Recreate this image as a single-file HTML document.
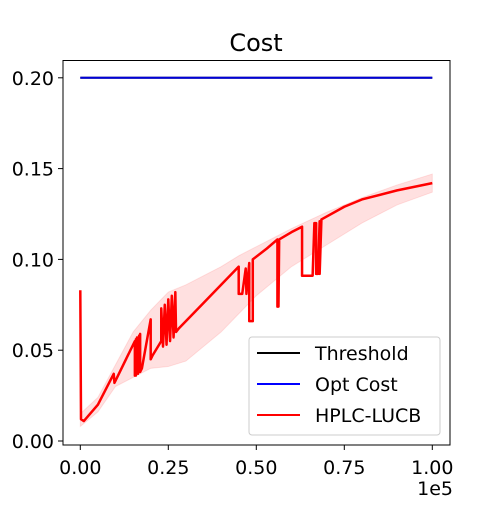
<!DOCTYPE html>
<html><head><meta charset="utf-8"><style>
body{margin:0;background:#fff}
svg{font-family:"DejaVu Sans","Liberation Sans",sans-serif}
</style></head><body>
<svg id="c" width="500" height="500" viewBox="0 0 500 500">
<rect width="500" height="500" fill="#fff"/>
<text x="256" y="51" font-size="24" text-anchor="middle">Cost</text>
<g id="band"></g><g id="lines"></g>
<rect x="63" y="60.5" width="387" height="384.5" fill="none" stroke="#000" stroke-width="1"/>
<g id="ticks"></g>
<text x="453" y="495" font-size="19" text-anchor="end">1e5</text>
<g>
<rect x="249" y="337" width="191" height="98" rx="3" fill="#fff" fill-opacity="0.8" stroke="#ccc"/>
<line x1="257" y1="353" x2="300" y2="353" stroke="#000" stroke-width="2"/>
<text x="315" y="360" font-size="19">Threshold</text>
<line x1="257" y1="384" x2="300" y2="384" stroke="#0000ff" stroke-width="2"/>
<text x="315" y="391" font-size="19">Opt Cost</text>
<line x1="257" y1="415" x2="300" y2="415" stroke="#ff0000" stroke-width="2"/>
<text x="315" y="422" font-size="19">HPLC-LUCB</text>
</g>
</svg>
<script>
const xTicks=[0,0.25,0.5,0.75,1.0];
const xTickLabels=["0.00","0.25","0.50","0.75","1.00"];
const yTicks=[0,0.05,0.10,0.15,0.20];
const yTickLabels=["0.00","0.05","0.10","0.15","0.20"];
const optCost=0.2;
const threshold=0.2;
const meanX=[0,0.002,0.01,0.05,0.095,0.097,0.155,0.155,0.158,0.158,0.161,0.161,0.164,0.164,0.167,0.167,0.17,0.17,0.175,0.2,0.2,0.205,0.23,0.23,0.235,0.24,0.245,0.25,0.255,0.26,0.265,0.27,0.272,0.28,0.35,0.45,0.45,0.46,0.47,0.472,0.48,0.48,0.49,0.49,0.53,0.56,0.56,0.563,0.565,0.6,0.63,0.63,0.66,0.665,0.67,0.67,0.675,0.68,0.68,0.685,0.75,0.8,0.9,1.0];
const meanY=[0.083,0.012,0.011,0.02,0.037,0.032,0.055,0.036,0.056,0.036,0.057,0.037,0.057,0.037,0.058,0.038,0.059,0.038,0.04,0.067,0.045,0.047,0.055,0.073,0.052,0.075,0.053,0.078,0.055,0.08,0.057,0.082,0.06,0.062,0.076,0.096,0.081,0.081,0.095,0.081,0.098,0.066,0.066,0.1,0.106,0.111,0.074,0.074,0.111,0.115,0.118,0.091,0.091,0.12,0.12,0.092,0.092,0.121,0.092,0.122,0.129,0.133,0.138,0.142];
const bandX=[0,0.05,0.1,0.15,0.2,0.25,0.3,0.4,0.45,0.5,0.6,0.7,0.8,0.9,1.0];
const bandUpper=[0.015,0.024,0.042,0.06,0.072,0.082,0.086,0.096,0.102,0.107,0.117,0.126,0.134,0.141,0.147];
const bandLower=[0.008,0.016,0.03,0.035,0.04,0.041,0.044,0.06,0.07,0.08,0.096,0.108,0.12,0.13,0.137];
const X=v=>80.3+v*352, Y=v=>441-v*1816;
const NS="http://www.w3.org/2000/svg";
function mk(t,a,p){const e=document.createElementNS(NS,t);for(const k in a)e.setAttribute(k,a[k]);p.appendChild(e);return e;}
const band=document.getElementById('band'),lines=document.getElementById('lines'),ticks=document.getElementById('ticks');
let d=bandX.map((x,i)=>(i?'L':'M')+X(x)+','+Y(bandUpper[i])).join('');
for(let i=bandX.length-1;i>=0;i--)d+='L'+X(bandX[i])+','+Y(bandLower[i]);
const b=mk('path',{d:d+'Z',fill:'#ff0000','fill-opacity':0.12,stroke:'#ff0000','stroke-opacity':0.1},band);


const th=mk('line',{x1:X(0),x2:X(1),y1:Y(threshold),y2:Y(threshold),stroke:'#000','stroke-width':2},lines);


const oc=mk('line',{x1:X(0),x2:X(1),y1:Y(optCost),y2:Y(optCost),stroke:'#0000ff','stroke-width':2,'stroke-opacity':0.85},lines);


const m=mk('path',{d:meanX.map((x,i)=>(i?'L':'M')+X(x)+','+Y(meanY[i])).join(''),fill:'none',stroke:'#ff0000','stroke-width':2.5,'stroke-linejoin':'round'},lines);


xTicks.forEach((v,i)=>{
 mk('line',{x1:X(v),x2:X(v),y1:445,y2:450,stroke:'#000'},ticks);
 const t=mk('text',{x:X(v),y:474,'font-size':19,'text-anchor':'middle'},ticks);t.textContent=xTickLabels[i];
 
 
});
yTicks.forEach((v,i)=>{
 mk('line',{x1:58,x2:63,y1:Y(v),y2:Y(v),stroke:'#000'},ticks);
 const t=mk('text',{x:54,y:Y(v)+7,'font-size':19,'text-anchor':'end'},ticks);t.textContent=yTickLabels[i];
 
 
});
</script>
</body></html>
